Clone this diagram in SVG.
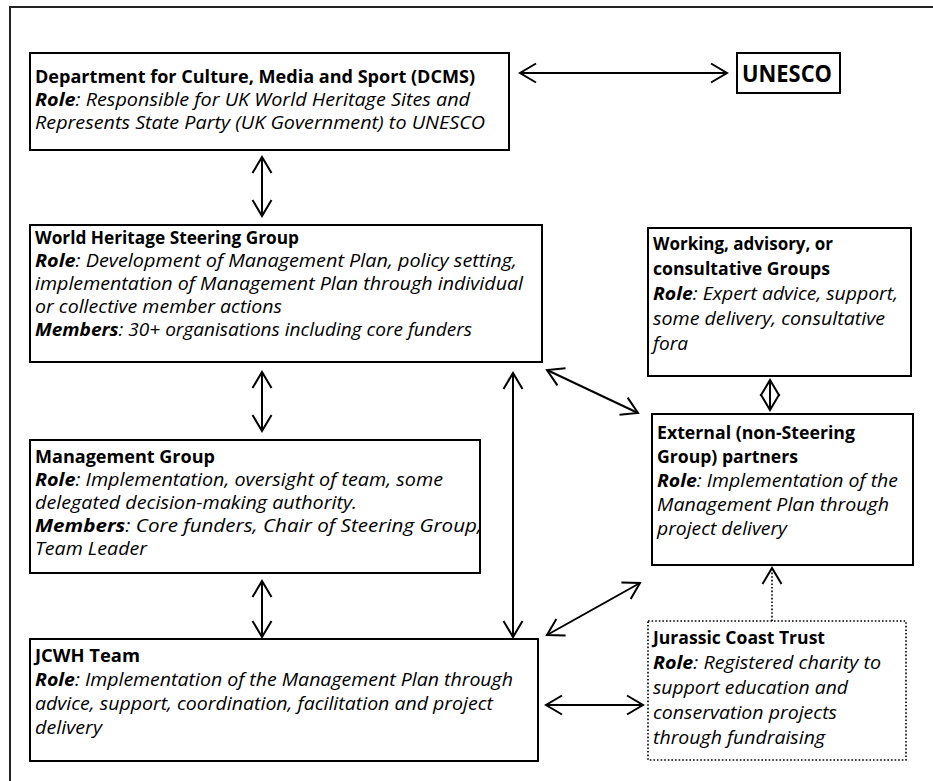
<svg xmlns="http://www.w3.org/2000/svg" width="933" height="781" viewBox="0 0 933 781">
<style>
.box{fill:#fff;stroke:#000;stroke-width:2}
.dot{fill:#fff;stroke:#000;stroke-width:1.6;stroke-dasharray:1.6 2}
.t{font-family:"Open Sans","Liberation Sans",sans-serif;font-size:18px;fill:#000}
.b{font-weight:bold}
.i{font-style:italic}
.bi{font-weight:bold;font-style:italic}
.c{fill:none;stroke:#000;stroke-width:2}
</style>
<defs>
<marker id="ah" viewBox="-20 -12 24 24" refX="0" refY="0" markerWidth="24" markerHeight="24" markerUnits="userSpaceOnUse" orient="auto-start-reverse" overflow="visible">
<path d="M-16,-9.5 L0,0 L-16,9.5" fill="none" stroke="#000" stroke-width="2"/>
</marker>
</defs>
<rect width="933" height="781" fill="#fff"/>
<path d="M10,781 V7 H933" fill="none" stroke="#222" stroke-width="2"/>

<g id="connectors">
<line class="c" x1="520" y1="73" x2="727" y2="73" marker-start="url(#ah)" marker-end="url(#ah)"/>
<line class="c" x1="262" y1="157" x2="262" y2="216" marker-start="url(#ah)" marker-end="url(#ah)"/>
<line class="c" x1="262" y1="372" x2="262" y2="431" marker-start="url(#ah)" marker-end="url(#ah)"/>
<line class="c" x1="262" y1="581" x2="262" y2="637" marker-start="url(#ah)" marker-end="url(#ah)"/>
<line class="c" x1="513" y1="373" x2="513" y2="637" marker-start="url(#ah)" marker-end="url(#ah)"/>
<line class="c" x1="547" y1="370" x2="638" y2="413" marker-start="url(#ah)" marker-end="url(#ah)"/>
<line class="c" x1="547" y1="635" x2="640" y2="583" marker-start="url(#ah)" marker-end="url(#ah)"/>
<line class="c" x1="546" y1="705" x2="643" y2="705" marker-start="url(#ah)" marker-end="url(#ah)"/>
<line class="c" x1="770" y1="380" x2="770" y2="410" marker-start="url(#ah)" marker-end="url(#ah)"/>
<line x1="772" y1="621" x2="772" y2="568" fill="none" stroke="#000" stroke-width="1.6" stroke-dasharray="1.6 2" marker-end="url(#ah)"/>
</g>

<g id="dcms">
<rect class="box" x="30" y="53" width="479" height="97"/>
<text class="t b" x="35" y="83" textLength="440" lengthAdjust="spacingAndGlyphs">Department for Culture, Media and Sport (DCMS)</text>
<text class="t i" x="35" y="106" textLength="435" lengthAdjust="spacingAndGlyphs"><tspan class="bi">Role</tspan>: Responsible for UK World Heritage Sites and</text>
<text class="t i" x="35" y="129" textLength="450" lengthAdjust="spacingAndGlyphs">Represents State Party (UK Government) to UNESCO</text>
</g>

<g id="unesco">
<rect class="box" x="737" y="53" width="103" height="40"/>
<text class="t b" x="742" y="82" style="font-size:23px" textLength="90" lengthAdjust="spacingAndGlyphs">UNESCO</text>
</g>

<g id="whsg">
<rect class="box" x="30" y="225" width="512" height="137"/>
<text class="t b" x="35" y="244" textLength="264" lengthAdjust="spacingAndGlyphs">World Heritage Steering Group</text>
<text class="t i" x="35" y="267" textLength="482" lengthAdjust="spacingAndGlyphs"><tspan class="bi">Role</tspan>: Development of Management Plan, policy setting,</text>
<text class="t i" x="35" y="290" textLength="488" lengthAdjust="spacingAndGlyphs">implementation of Management Plan through individual</text>
<text class="t i" x="35" y="313" textLength="247" lengthAdjust="spacingAndGlyphs">or collective member actions</text>
<text class="t i" x="35" y="336" textLength="437" lengthAdjust="spacingAndGlyphs"><tspan class="bi">Members</tspan>: 30+ organisations including core funders</text>
</g>

<g id="working">
<rect class="box" x="648" y="228" width="263" height="148"/>
<text class="t b" x="653" y="250" textLength="180" lengthAdjust="spacingAndGlyphs">Working, advisory, or</text>
<text class="t b" x="653" y="275" textLength="177" lengthAdjust="spacingAndGlyphs">consultative Groups</text>
<text class="t i" x="653" y="300" textLength="245" lengthAdjust="spacingAndGlyphs"><tspan class="bi">Role</tspan>: Expert advice, support,</text>
<text class="t i" x="653" y="325" textLength="232" lengthAdjust="spacingAndGlyphs">some delivery, consultative</text>
<text class="t i" x="653" y="350" textLength="35" lengthAdjust="spacingAndGlyphs">fora</text>
</g>

<g id="management">
<rect class="box" x="30" y="440" width="450" height="133"/>
<text class="t b" x="35" y="463" textLength="180" lengthAdjust="spacingAndGlyphs">Management Group</text>
<text class="t i" x="35" y="486" textLength="408" lengthAdjust="spacingAndGlyphs"><tspan class="bi">Role</tspan>: Implementation, oversight of team, some</text>
<text class="t i" x="35" y="509" textLength="322" lengthAdjust="spacingAndGlyphs">delegated decision-making authority.</text>
<text class="t i" x="35" y="532" textLength="447" lengthAdjust="spacingAndGlyphs"><tspan class="bi">Members</tspan>: Core funders, Chair of Steering Group,</text>
<text class="t i" x="35" y="555" textLength="112" lengthAdjust="spacingAndGlyphs">Team Leader</text>
</g>

<g id="external">
<rect class="box" x="652" y="414" width="261" height="151"/>
<text class="t b" x="657" y="439" textLength="198" lengthAdjust="spacingAndGlyphs">External (non-Steering</text>
<text class="t b" x="657" y="463" textLength="141" lengthAdjust="spacingAndGlyphs">Group) partners</text>
<text class="t i" x="657" y="487" textLength="241" lengthAdjust="spacingAndGlyphs"><tspan class="bi">Role</tspan>: Implementation of the</text>
<text class="t i" x="657" y="511" textLength="232" lengthAdjust="spacingAndGlyphs">Management Plan through</text>
<text class="t i" x="657" y="535" textLength="130" lengthAdjust="spacingAndGlyphs">project delivery</text>
</g>

<g id="jcwh">
<rect class="box" x="30" y="639" width="508" height="122"/>
<text class="t b" x="35" y="662" textLength="105" lengthAdjust="spacingAndGlyphs">JCWH Team</text>
<text class="t i" x="35" y="686" textLength="478" lengthAdjust="spacingAndGlyphs"><tspan class="bi">Role</tspan>: Implementation of the Management Plan through</text>
<text class="t i" x="35" y="710" textLength="458" lengthAdjust="spacingAndGlyphs">advice, support, coordination, facilitation and project</text>
<text class="t i" x="35" y="734" textLength="67" lengthAdjust="spacingAndGlyphs">delivery</text>
</g>

<g id="jct">
<rect class="dot" x="648" y="621" width="258" height="139"/>
<text class="t b" x="653" y="644" textLength="172" lengthAdjust="spacingAndGlyphs">Jurassic Coast Trust</text>
<text class="t i" x="653" y="669" textLength="228" lengthAdjust="spacingAndGlyphs"><tspan class="bi">Role</tspan>: Registered charity to</text>
<text class="t i" x="653" y="694" textLength="195" lengthAdjust="spacingAndGlyphs">support education and</text>
<text class="t i" x="653" y="719" textLength="184" lengthAdjust="spacingAndGlyphs">conservation projects</text>
<text class="t i" x="653" y="744" textLength="172" lengthAdjust="spacingAndGlyphs">through fundraising</text>
</g>
</svg>
